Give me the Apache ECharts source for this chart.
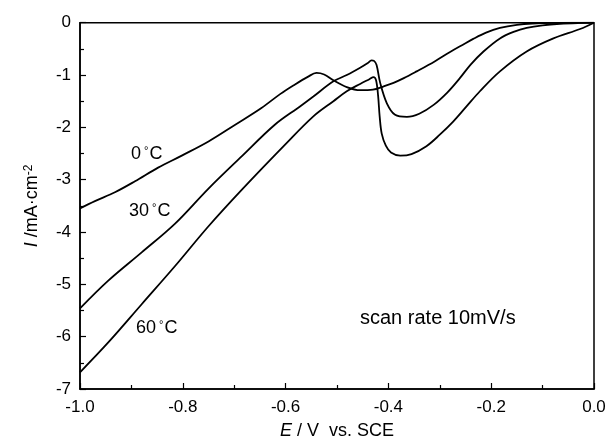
<!DOCTYPE html>
<html>
<head>
<meta charset="utf-8">
<script src="https://cdn.jsdelivr.net/npm/echarts@6/dist/echarts.min.js"></script>
<style>
html,body{margin:0;padding:0;background:#fff;}
#chart{width:609px;height:445px;}
</style>
</head>
<body>
<div id="chart"></div>
<script>
// ---- data ----
var xTicks = [-1.0, -0.8, -0.6, -0.4, -0.2, 0.0];
var yTicks = [0, -1, -2, -3, -4, -5, -6, -7];
var seriesNames = ['0°C', '30°C', '60°C'];

var e0 = [-1.0, -0.971, -0.932, -0.893, -0.848, -0.802, -0.750, -0.698, -0.647, -0.61, -0.585, -0.556, -0.540, -0.525, -0.507, -0.481, -0.455, -0.43, -0.41, -0.39, -0.37, -0.345, -0.31, -0.28, -0.255, -0.235, -0.21, -0.183, -0.15, -0.12, -0.07, 0.0];
var i0 = [-3.55, -3.41, -3.24, -3.03, -2.77, -2.54, -2.27, -1.95, -1.63, -1.36, -1.20, -1.03, -0.96, -0.99, -1.10, -1.23, -1.29, -1.28, -1.22, -1.15, -1.06, -0.93, -0.74, -0.56, -0.42, -0.31, -0.19, -0.10, -0.04, -0.015, -0.003, 0.0];

var e30 = [-1.0, -0.945, -0.880, -0.815, -0.750, -0.685, -0.621, -0.572, -0.546, -0.507, -0.481, -0.455, -0.440, -0.433, -0.428, -0.423, -0.416, -0.403, -0.387, -0.364, -0.340, -0.312, -0.285, -0.261, -0.240, -0.215, -0.183, -0.155, -0.131, -0.10, -0.066, -0.03, 0.0];
var i30 = [-5.46, -4.93, -4.39, -3.84, -3.17, -2.55, -1.95, -1.60, -1.41, -1.12, -1.00, -0.86, -0.77, -0.72, -0.73, -0.81, -1.15, -1.54, -1.76, -1.80, -1.74, -1.57, -1.33, -1.06, -0.80, -0.55, -0.30, -0.17, -0.10, -0.05, -0.02, -0.005, 0.0];

var e60 = [-1.0, -0.945, -0.880, -0.815, -0.750, -0.685, -0.601, -0.546, -0.507, -0.481, -0.455, -0.437, -0.429, -0.424, -0.420, -0.417, -0.413, -0.405, -0.395, -0.377, -0.355, -0.326, -0.300, -0.274, -0.248, -0.222, -0.183, -0.131, -0.079, -0.027, 0.0];
var i60 = [-6.68, -6.11, -5.38, -4.65, -3.89, -3.19, -2.33, -1.79, -1.50, -1.31, -1.17, -1.08, -1.04, -1.10, -1.40, -1.79, -2.12, -2.35, -2.48, -2.54, -2.51, -2.36, -2.14, -1.89, -1.60, -1.31, -0.93, -0.55, -0.30, -0.12, 0.0];

var annotationText = ['0', '30', '60'];
var noteText = 'scan rate 10mV/s';

// ---- build ----
function pairs(xs, ys) {
  var out = [];
  for (var k = 0; k < xs.length; k++) out.push([xs[k], ys[k]]);
  return out;
}
var FONT = 'Liberation Sans, Arial, Helvetica, sans-serif';
var lineStyle = { color: '#000', width: 1.8 };
function mkSeries(name, xs, ys) {
  return {
    name: name, type: 'line', data: pairs(xs, ys),
    showSymbol: false, symbol: 'none', smooth: 0.35,
    lineStyle: lineStyle, silent: true
  };
}

var chart = echarts.init(document.getElementById('chart'), null, { renderer: 'canvas' });
var axisCommon = {
  axisLine: { show: true, onZero: false, lineStyle: { color: '#000', width: 1.5 } },
  axisTick: { show: true, inside: true, length: 6, lineStyle: { color: '#000', width: 1.2 } },
  minorTick: { show: true, splitNumber: 2, length: 4, lineStyle: { color: '#000', width: 1.2 } },
  splitLine: { show: false },
  minorSplitLine: { show: false }
};
function degRich(size) {
  return {
    d: { fontSize: Math.round(size * 0.6), fontFamily: FONT, color: '#000', verticalAlign: 'top', padding: [0, 1, 0, 3] },
    n: { fontSize: size, fontFamily: FONT, color: '#000' }
  };
}

var option = {
  animation: false,
  backgroundColor: '#fff',
  grid: { left: 80, right: 15, top: 22.7, bottom: 55, show: true, borderColor: '#000', borderWidth: 1.5, backgroundColor: 'transparent' },
  xAxis: Object.assign({
    type: 'value', min: xTicks[0], max: xTicks[xTicks.length - 1], interval: 0.2,
    axisLabel: { color: '#000', fontFamily: FONT, fontSize: 17, margin: 10,
      formatter: function (v) { return (Math.abs(v) < 1e-9 ? 0 : v).toFixed(1); } },
    name: '{i|E} / V  vs. SCE', nameLocation: 'middle', nameGap: 33,
    nameTextStyle: { color: '#000', fontFamily: FONT, fontSize: 18,
      rich: { i: { fontStyle: 'italic', fontFamily: FONT, fontSize: 18, color: '#000' } } }
  }, axisCommon),
  yAxis: Object.assign({
    type: 'value', min: yTicks[yTicks.length - 1], max: yTicks[0], interval: 1,
    axisLabel: { color: '#000', fontFamily: FONT, fontSize: 17, margin: 9,
      formatter: function (v) { return String(Math.round(v)); } },
    name: '{i|I} /mA·cm{s|-2}', nameLocation: 'middle', nameGap: 39, nameRotate: 90,
    nameTextStyle: { color: '#000', fontFamily: FONT, fontSize: 18,
      rich: {
        i: { fontStyle: 'italic', fontFamily: FONT, fontSize: 18, color: '#000' },
        s: { fontFamily: FONT, fontSize: 12, color: '#000', verticalAlign: 'top' }
      } }
  }, axisCommon),
  series: [
    mkSeries(seriesNames[0], e0, i0),
    mkSeries(seriesNames[1], e30, i30),
    mkSeries(seriesNames[2], e60, i60)
  ],
  graphic: [
    { type: 'text', left: 131, top: 145, silent: true,
      style: { text: '{n|' + annotationText[0] + '}{d|°}{n|C}', rich: degRich(18), fill: '#000' } },
    { type: 'text', left: 129, top: 202, silent: true,
      style: { text: '{n|' + annotationText[1] + '}{d|°}{n|C}', rich: degRich(18), fill: '#000' } },
    { type: 'text', left: 136, top: 319, silent: true,
      style: { text: '{n|' + annotationText[2] + '}{d|°}{n|C}', rich: degRich(18), fill: '#000' } },
    { type: 'text', left: 360, top: 308, silent: true,
      style: { text: noteText, fontFamily: FONT, fontSize: 20, fill: '#000' } }
  ]
};
chart.setOption(option);
</script>
</body>
</html>
